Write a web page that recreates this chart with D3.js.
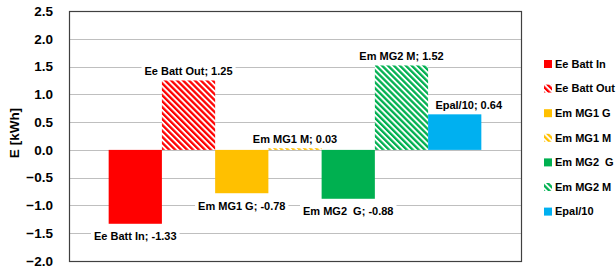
<!DOCTYPE html>
<html>
<head>
<meta charset="utf-8">
<script src="https://cdn.jsdelivr.net/npm/d3@7"></script>
<style>
  body { margin: 0; background: #fff; }
  text { font-family: "Liberation Sans", Arial, sans-serif; font-weight: bold; white-space: pre; }
</style>
</head>
<body>
<figure id="bar" style="margin:0"></figure>
<script>
// chart data
const series = ["Ee Batt In", "Ee Batt Out", "Em MG1 G", "Em MG1 M", "Em MG2  G", "Em MG2 M", "Epal/10"];
const values = [-1.33, 1.25, -0.78, 0.03, -0.88, 1.52, 0.64];
const colors = ["#FF0000", "#FF0000", "#FFC000", "#FFC000", "#00B050", "#00B050", "#00B0F0"];
const hatched = [false, true, false, true, false, true, false];
const yTicks = [2.5, 2.0, 1.5, 1.0, 0.5, 0.0, -0.5, -1.0, -1.5, -2.0];

const width = 616, height = 270;
const plot = {left: 69, right: 521, top: 11, bottom: 261};

const svg = d3.select("figure#bar")
  .append("svg")
  .attr("width", width)
  .attr("height", height);

// hatch patterns
const defs = svg.append("defs");
colors.forEach((c, i) => {
  if (!hatched[i]) return;
  const p = defs.append("pattern")
    .attr("id", "hatch" + i)
    .attr("patternUnits", "userSpaceOnUse")
    .attr("width", 4.2)
    .attr("height", 10)
    .attr("patternTransform", "rotate(-45)");
  p.append("rect").attr("width", 4.2).attr("height", 10).attr("fill", "#fff");
  p.append("rect").attr("width", 2.3).attr("height", 10).attr("fill", c);
});
const fillOf = i => hatched[i] ? "url(#hatch" + i + ")" : colors[i];

const x = d3.scaleBand()
  .domain(series)
  .range([plot.left, plot.right])
  .paddingInner(0)
  .paddingOuter(0.745);

const y = d3.scaleLinear()
  .domain([-2.0, 2.5])
  .range([plot.bottom, plot.top]);

// gridlines
svg.append("g")
  .selectAll("line")
  .data(yTicks)
  .enter()
  .append("line")
  .attr("x1", plot.left)
  .attr("x2", plot.right)
  .attr("y1", d => Math.round(y(d)) + 0.5)
  .attr("y2", d => Math.round(y(d)) + 0.5)
  .attr("stroke", "#BFBFBF")
  .attr("stroke-width", 1);

// y axis labels
const yAxis = svg.append("g")
  .attr("transform", "translate(" + plot.left + ",0)")
  .call(d3.axisLeft(y).tickValues(yTicks).tickFormat(d3.format(".1f")).tickSize(0).tickPadding(16));
yAxis.select(".domain").remove();
yAxis.selectAll("text")
  .attr("font-size", 13.5)
  .attr("font-family", "Liberation Sans, Arial, sans-serif")
  .attr("font-weight", "bold")
  .attr("fill", "#000");

// bars
svg.selectAll("bars")
  .data(values)
  .enter()
  .append("rect")
  .attr("x", (d, i) => x(series[i]))
  .attr("y", d => y(Math.max(0, d)))
  .attr("width", x.bandwidth())
  .attr("height", d => Math.abs(y(d) - y(0)))
  .attr("fill", (d, i) => fillOf(i));

// plot border
svg.append("rect")
  .attr("x", plot.left + 0.5)
  .attr("y", plot.top + 0.5)
  .attr("width", plot.right - plot.left)
  .attr("height", plot.bottom - plot.top)
  .attr("fill", "none")
  .attr("stroke", "#404040")
  .attr("stroke-width", 1.2);

// data labels with white background
const labelShift = [0, 0, 0, 0, 0, 0, 14];
const labels = svg.append("g");
values.forEach((d, i) => {
  const cx = x(series[i]) + x.bandwidth() / 2 + labelShift[i];
  const cy = d >= 0 ? y(d) - 9.5 : y(d) + 12.5;
  const g = labels.append("g");
  const bg = g.append("rect").attr("fill", "#fff");
  const t = g.append("text")
    .attr("x", cx)
    .attr("y", cy)
    .attr("dy", "0.35em")
    .attr("text-anchor", "middle")
    .attr("font-size", 11)
    .attr("fill", "#000")
    .text(series[i] + "; " + d.toFixed(2));
  const b = t.node().getBBox();
  bg.attr("x", b.x - 3).attr("y", b.y - 1).attr("width", b.width + 6).attr("height", b.height + 2);
});

// y axis title
svg.append("text")
  .attr("transform", "translate(19," + 133 + ") rotate(-90)")
  .attr("text-anchor", "middle")
  .attr("font-size", 13.5)
  .text("E [kWh]");

// legend
const legend = svg.append("g")
  .attr("transform", "translate(544,64)");
series.forEach((s, i) => {
  const row = legend.append("g").attr("transform", "translate(0," + (i * 24.6) + ")");
  row.append("rect")
    .attr("x", 0).attr("y", -4)
    .attr("width", 8).attr("height", 8)
    .attr("fill", fillOf(i));
  row.append("text")
    .attr("x", 11)
    .attr("y", 0)
    .attr("dy", "0.35em")
    .attr("font-size", 11)
    .text(s);
});
</script>
</body>
</html>
